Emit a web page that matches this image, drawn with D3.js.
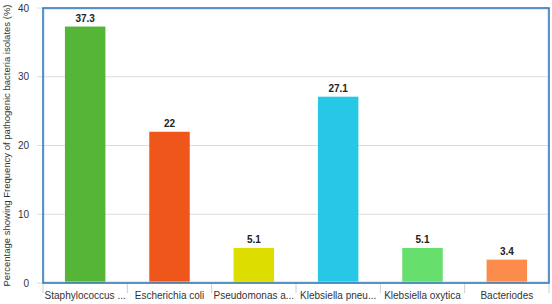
<!DOCTYPE html>
<html>
<head>
<meta charset="utf-8">
<script src="https://cdn.jsdelivr.net/npm/d3@7"></script>
<style>
  body { margin: 0; background: #fff; }
  svg { display: block; font-family: "Liberation Sans", Arial, sans-serif; }
</style>
</head>
<body>
<div class="chart"></div>
<script>
// Data
const categories = ["Staphylococcus ...", "Escherichia coli", "Pseudomonas a...", "Klebsiella pneu...", "Klebsiella oxytica", "Bacteriodes"];
const values = [37.3, 22, 5.1, 27.1, 5.1, 3.4];
const valueLabels = ["37.3", "22", "5.1", "27.1", "5.1", "3.4"];
const colors = ["#55b536", "#ee561c", "#dddd00", "#27c8e5", "#66df6c", "#fc8c4c"];
const yTicks = [0, 10, 20, 30, 40];

const W = 552, H = 304;
const margin = { top: 8, right: 3, bottom: 21, left: 43 };
const width = W - margin.left - margin.right;
const height = H - margin.top - margin.bottom;

const svg = d3.select(".chart").append("svg")
    .attr("width", W)
    .attr("height", H);

const g = svg.append("g")
    .attr("transform", `translate(${margin.left},${margin.top})`);

const x = d3.scaleBand()
    .domain(categories)
    .range([0, width])
    .paddingInner(0.52)
    .paddingOuter(0.26);

const y = d3.scaleLinear()
    .domain([0, 40])
    .range([height, 0]);

// gridlines + tick marks
g.selectAll(".grid")
    .data(yTicks)
    .enter()
    .append("line")
    .attr("x1", -6)
    .attr("x2", width)
    .attr("y1", d => y(d))
    .attr("y2", d => y(d))
    .style("stroke", "#dcdcdc")
    .style("stroke-width", 1);

// y tick labels
g.selectAll(".ylab")
    .data(yTicks)
    .enter()
    .append("text")
    .attr("x", -14)
    .attr("y", d => y(d))
    .attr("dy", "0.35em")
    .attr("text-anchor", "end")
    .style("font-size", "10px")
    .style("fill", "#333")
    .text(d => d);

// category separators below axis
const step = x.step();
g.selectAll(".sep")
    .data(d3.range(categories.length + 1))
    .enter()
    .append("line")
    .attr("x1", i => i * width / categories.length)
    .attr("x2", i => i * width / categories.length)
    .attr("y1", height)
    .attr("y2", height + 10)
    .style("stroke", "#cfcfcf");

// bars
g.selectAll(".bar")
    .data(values)
    .enter()
    .append("rect")
    .attr("x", (d, i) => x(categories[i]))
    .attr("y", d => y(d))
    .attr("width", x.bandwidth())
    .attr("height", d => height - y(d))
    .style("fill", (d, i) => colors[i]);

// value labels
g.selectAll(".val")
    .data(values)
    .enter()
    .append("text")
    .attr("x", (d, i) => x(categories[i]) + x.bandwidth() / 2)
    .attr("y", d => y(d) - 5)
    .attr("text-anchor", "middle")
    .style("font-size", "10px")
    .style("font-weight", "bold")
    .style("fill", "#222")
    .text((d, i) => valueLabels[i]);

// category labels
g.selectAll(".cat")
    .data(categories)
    .enter()
    .append("text")
    .attr("x", d => x(d) + x.bandwidth() / 2)
    .attr("y", height + 16)
    .attr("text-anchor", "middle")
    .style("font-size", "10px")
    .style("fill", "#333")
    .text(d => d);

// plot frame
g.append("rect")
    .attr("x", 1)
    .attr("y", 1)
    .attr("width", width - 2)
    .attr("height", height - 2)
    .style("fill", "none")
    .style("stroke", "#b9d9f2")
    .style("stroke-width", 1);
g.append("rect")
    .attr("x", 0)
    .attr("y", 0)
    .attr("width", width)
    .attr("height", height)
    .style("fill", "none")
    .style("stroke", "#2f74b6")
    .style("stroke-width", 1.5);

// y axis title
svg.append("text")
    .attr("transform", `translate(10,${margin.top + height / 2}) rotate(-90)`)
    .attr("text-anchor", "middle")
    .style("font-size", "9.5px")
    .style("fill", "#333")
    .text("Percentage showing Frequency of pathogenic bacteria isolates (%)");
</script>
</body>
</html>
